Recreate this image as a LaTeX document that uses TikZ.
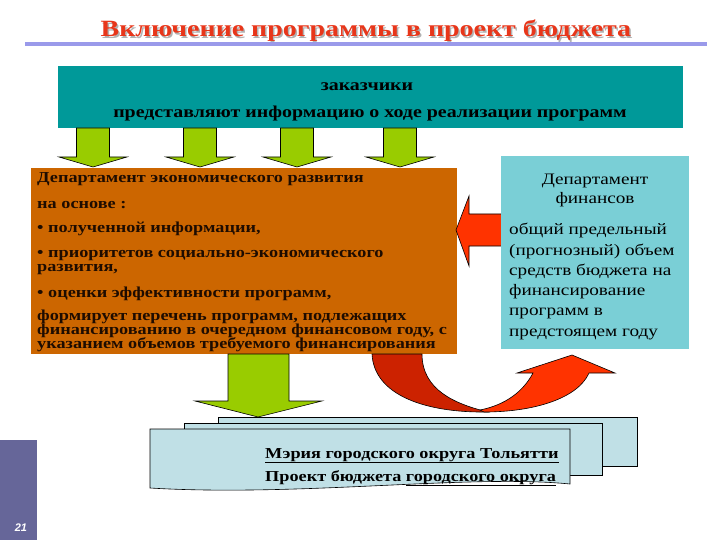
\documentclass[tikz,border=0pt]{standalone}
\usepackage{fontspec}
\setmainfont{Liberation Serif}[FakeStretch=1.2]
\newfontfamily\numfont{Liberation Sans}
\definecolor{titlered}{HTML}{E8361A}
\definecolor{lav}{HTML}{9A9AEA}
\definecolor{teal1}{HTML}{009999}
\definecolor{grn}{HTML}{99CC00}
\definecolor{orng}{HTML}{CC6600}
\definecolor{ltblue}{HTML}{7ACFD6}
\definecolor{redarr}{HTML}{FF3300}
\definecolor{darkred}{HTML}{CC2200}
\definecolor{page}{HTML}{C0E0E6}
\definecolor{purp}{HTML}{666699}
\definecolor{otext}{HTML}{1E0C00}
\begin{document}
\begin{tikzpicture}[x=1pt,y=-1pt,
  otxt/.style={anchor=base west,inner sep=0pt,text=otext,font=\fontsize{15.2}{15}\selectfont\bfseries},
  btxt/.style={anchor=base west,inner sep=0pt,font=\fontsize{16}{16}\selectfont},
  ttxt/.style={anchor=base,inner sep=0pt,font=\fontsize{16.6}{16}\selectfont\bfseries},
  ptxt/.style={anchor=base west,inner sep=0pt,font=\fontsize{15.2}{15}\selectfont\bfseries},
  blockarrow/.style={draw=black,line width=0.6pt,line join=miter}]
\useasboundingbox (0,0) rectangle (720,540);
% title
\node[anchor=base,inner sep=0pt,text=gray!60,font=\fontsize{23.3}{24}\selectfont\bfseries] (titleshadow) at (367.5,38.5) {Включение программы в проект бюджета};
\node[anchor=base,inner sep=0pt,text=titlered,font=\fontsize{23.3}{24}\selectfont\bfseries] (title) at (366,37) {Включение программы в проект бюджета};
\fill[lav] (25,42) rectangle (707,46.5);
% teal box
\fill[teal1] (58,66) rectangle (683,128);
\node[ttxt] (zak) at (367,91) {заказчики};
\node[ttxt] (zak2) at (370,118) {представляют информацию о ходе реализации программ};
% green top arrows
\foreach \cx in {93,200,297,400}{
  \draw[blockarrow,fill=grn] (\cx-16.5,128) -- (\cx+16.5,128) -- (\cx+16.5,157) -- (\cx+34,157) -- (\cx,167) -- (\cx-34,157) -- (\cx-16.5,157) -- cycle;
}
% orange box
\fill[orng] (31,168) rectangle (457,354);
\node[otxt] (o1) at (37,183) {Департамент экономического развития};
\node[otxt] (o2) at (37,208) {на основе :};
\node[otxt] (o3) at (37,233) {• полученной информации,};
\node[otxt] (o4) at (37,257) {• приоритетов социально-экономического};
\node[otxt] (o5) at (37,271) {развития,};
\node[otxt] (o6) at (37,297) {• оценки эффективности программ,};
\node[otxt] (o7) at (37,320) {формирует перечень программ, подлежащих};
\node[otxt] (o8) at (37,334) {финансированию в очередном финансовом году, с};
\node[otxt] (o9) at (37,348) {указанием объемов требуемого финансирования};
% red left arrow
\draw[blockarrow,fill=redarr] (456,230) -- (469,196) -- (469,214) -- (503,214) -- (503,246) -- (469,246) -- (469,266) -- cycle;
% light blue box
\fill[ltblue] (501,156) rectangle (689,349);
\node[anchor=base,inner sep=0pt,font=\fontsize{16}{16}\selectfont] (f1) at (595,185) {Департамент};
\node[anchor=base,inner sep=0pt,font=\fontsize{16}{16}\selectfont] (f2) at (595,204) {финансов};
\node[btxt] (f3) at (509,235) {общий предельный};
\node[btxt] (f4) at (509,255) {(прогнозный) объем};
\node[btxt] (f5) at (509,275) {средств бюджета на};
\node[btxt] (f6) at (509,295) {финансирование};
\node[btxt] (f7) at (509,315) {программ в};
\node[btxt] (f8) at (509,336) {предстоящем году};
% curved arrow
\draw[blockarrow,fill=darkred] (372,354) .. controls (374,395) and (425,413) .. (488,412) .. controls (455,404) and (422,390) .. (422,354) -- cycle;
\draw[blockarrow,fill=redarr] (484,412) .. controls (535,412) and (578,398) .. (589,373) -- (615,373) -- (572,355) -- (517,373) -- (533,373) .. controls (523,392) and (505,405) .. (480,410) -- cycle;
% green down arrow
\draw[blockarrow,fill=grn] (228,354) -- (289,354) -- (289,401) -- (322,401) -- (258,417) -- (195,401) -- (228,401) -- cycle;
% pages
\draw[fill=page,line width=0.6pt] (218,417) rectangle (637,466);
\draw[fill=page,line width=0.6pt] (184,423) rectangle (602,475);
\draw[fill=page,line width=0.6pt] (150,429) -- (570,429) -- (570,484) .. controls (470,474) and (300,497) .. (150,488) -- cycle;
\node[ptxt] (m1) at (265,458) {\underline{Мэрия городского округа Тольятти}};
\node[ptxt] (m2) at (265,481) {Проект бюджета \underline{городского округа}};
% purple bar
\fill[purp] (0,440) rectangle (37,540);
\node[inner sep=0pt,text=white,font=\numfont\fontsize{11}{11}\selectfont\bfseries\itshape] (num) at (21,528) {21};
\end{tikzpicture}
\end{document}
